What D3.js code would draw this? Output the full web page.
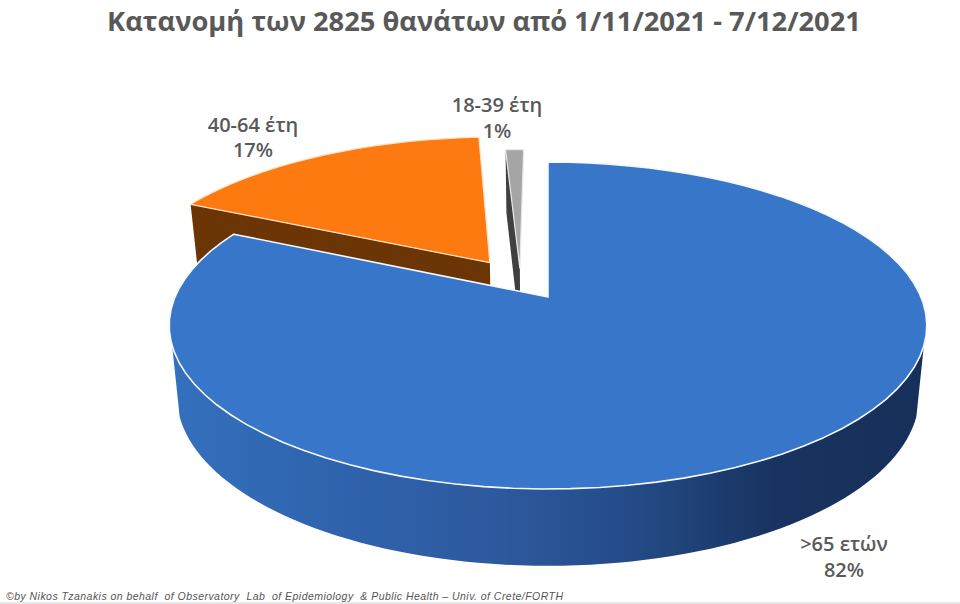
<!DOCTYPE html>
<html>
<head>
<meta charset="utf-8">
<script src="https://cdn.jsdelivr.net/npm/d3@7"></script>
<style>
  html, body { margin: 0; padding: 0; background: #fff; }
  svg { display: block; }
  text { font-family: "Open Sans", sans-serif; fill: #595959; }
</style>
</head>
<body>
<div id="output"></div>
<script>
var titleText = "Κατανομή των 2825 θανάτων από 1/11/2021 - 7/12/2021";
var footerText = "©by Nikos Tzanakis on behalf  of Observatory  Lab  of Epidemiology  & Public Health – Univ. of Crete/FORTH";
var categories = [">65 ετών", "40-64 έτη", "18-39 έτη"];
var values = [82, 17, 1];
var valueLabels = ["82%", "17%", "1%"];

var width = 960, height = 604;

var svg = d3.select("#output").append("svg")
  .attr("width", width)
  .attr("height", height)
  .attr("viewBox", "0 0 " + width + " " + height);

// perspective of the pie plane, fitted to the picture
var cx = 548, topY = 297, botY = 366;
var persp = 0.1743;
var rx = 373, ryTop = 158.5, ryBot = 165, botScale = 0.98;

// slice offset (world units, relative to the blue slice) and radius
var sliceStyle = [
  {du: 0, dv: 0, r: 1, top: "#3776c8", side: "url(#blueSide)"},
  {du: -0.162, dv: -0.225, r: 1, top: "#fd7a11", side: "#6b3505"},
  {du: -0.078, dv: -0.19, r: 0.92, top: "#a5a5a5", side: "#404040"}
];

var labelPos = [
  {x: 844, y: [551, 577]},
  {x: 253, y: [132, 157]},
  {x: 497, y: [112, 138]}
];

function project(u, v, bottom) {
  var w = 1 - persp * v;
  if (bottom) return [cx + botScale * rx * u / w, botY + ryBot * v / w];
  return [cx + rx * u / w, topY + ryTop * v / w];
}

function rimPoint(s, a, bottom) {
  return project(s.du + s.r * Math.sin(a), s.dv - s.r * Math.cos(a), bottom);
}

function rim(s, a0, a1, bottom) {
  var n = 80;
  return d3.range(n + 1).map(function(i) {
    return rimPoint(s, a0 + (a1 - a0) * i / n, bottom);
  });
}

var line = d3.line().curve(d3.curveLinear);

var defs = svg.append("defs");
var grad = defs.append("linearGradient")
  .attr("id", "blueSide")
  .attr("gradientUnits", "userSpaceOnUse")
  .attr("x1", 172).attr("x2", 926)
  .attr("y1", 0).attr("y2", 0);
[[0, "#3470bd"], [0.22, "#2f63ad"], [0.42, "#2e5a9f"], [0.62, "#234a86"], [0.8, "#18335f"], [1, "#16305a"]]
  .forEach(function(d) {
    grad.append("stop").attr("offset", d[0]).attr("stop-color", d[1]);
  });

var arcs = d3.pie().sort(null).value(function(d) { return d; })(values);

// back slices first, blue one goes on top of them
[2, 1].forEach(function(i) {
  var d = arcs[i], s = sliceStyle[i];
  var apexT = project(s.du, s.dv, false);
  var apexB = project(s.du, s.dv, true);
  var endT = rimPoint(s, d.startAngle, false);
  var endB = rimPoint(s, d.startAngle, true);
  svg.append("path")
    .attr("d", line([endT, apexT, apexB, endB]) + "Z")
    .attr("fill", s.side);
  svg.append("path")
    .attr("d", line([apexT].concat(rim(s, d.startAngle, d.endAngle, false))) + "Z")
    .attr("fill", s.top)
    .attr("stroke", i === 1 ? "#ffe2c4" : "#e8e8e8")
    .attr("stroke-width", 1.2)
    .attr("stroke-linejoin", "round");
});

// blue slice, front wall then top
var blue = sliceStyle[0];
var wallA = 107 * Math.PI / 180, wallB = 253 * Math.PI / 180;
svg.append("path")
  .attr("d", line(rim(blue, wallA, wallB, false).concat(rim(blue, wallB, wallA, true))) + "Z")
  .attr("fill", blue.side);
svg.append("path")
  .attr("d", line([project(0, 0, false)].concat(rim(blue, arcs[0].startAngle, arcs[0].endAngle, false))) + "Z")
  .attr("fill", blue.top)
  .attr("stroke", "#f4f8ff")
  .attr("stroke-width", 1.6)
  .attr("stroke-linejoin", "round");

// title
svg.append("text")
  .attr("x", 484).attr("y", 31)
  .attr("text-anchor", "middle")
  .attr("font-size", 27.3)
  .attr("font-weight", 700)
  .text(titleText);

// data labels
categories.forEach(function(c, i) {
  var g = svg.append("g")
    .attr("text-anchor", "middle")
    .attr("font-size", 20)
    .attr("font-weight", 600);
  g.append("text").attr("x", labelPos[i].x).attr("y", labelPos[i].y[0]).text(c);
  g.append("text").attr("x", labelPos[i].x).attr("y", labelPos[i].y[1]).text(valueLabels[i]);
});

// footer
svg.append("text")
  .attr("x", 6).attr("y", 600)
  .attr("font-size", 10.5)
  .attr("font-style", "italic")
  .attr("textLength", 557)
  .attr("xml:space", "preserve")
  .style("font-family", "'Liberation Sans', sans-serif")
  .style("fill", "#555")
  .text(footerText);

svg.append("rect")
  .attr("x", 0).attr("y", height - 2)
  .attr("width", width).attr("height", 2)
  .attr("fill", "#e9e9e9");
</script>
</body>
</html>
